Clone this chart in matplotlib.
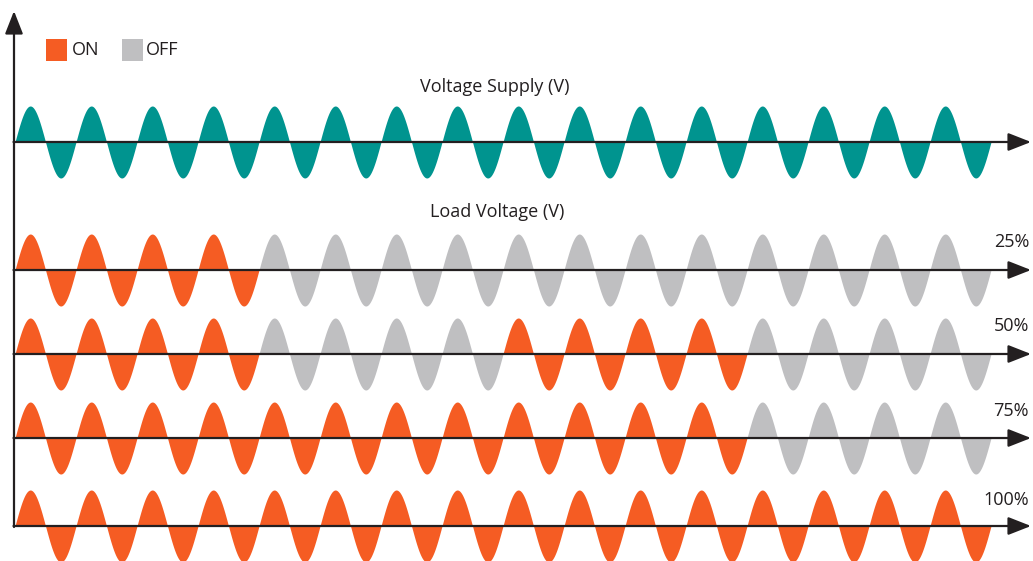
import numpy as np
import matplotlib
matplotlib.use("Agg")
import matplotlib.pyplot as plt
from matplotlib.patches import Rectangle

# ---- data ----
n_cycles = 16
row_labels = ["Voltage Supply", "25%", "50%", "75%", "100%"]
# per-cycle state: 1 = ON, 0 = OFF  (supply row always conducting)
supply_state = [1] * 16
state_25 = [1] * 4 + [0] * 12
state_50 = [1] * 4 + [0] * 4 + [1] * 4 + [0] * 4
state_75 = [1] * 12 + [0] * 4
state_100 = [1] * 16
# baseline of each row (in units of wave amplitude above the bottom axis)
row_baselines = [10.667, 7.111, 4.778, 2.444, 0.0]

TEAL = "#00948f"
ORANGE = "#f55c23"
GRAY = "#bfbfc1"
INK = "#231f20"
FONT = ["Open Sans", "DejaVu Sans"]
FS = 13

W, H, DPI = 1033, 561, 100
fig = plt.figure(figsize=(W / DPI, H / DPI), dpi=DPI)
ax = fig.add_axes([0, 0, 1, 1])
ax.axis("off")

# pixel mapping: x_px = 15 + 61 * t ; y_px = 526 - 36 * v
x0, px_per_cycle = 15.0, 61.0
y0, px_per_amp = 526.0, 36.0
ax.set_xlim(-x0 / px_per_cycle, (W - x0) / px_per_cycle)
ax.set_ylim((y0 - H) / px_per_amp, y0 / px_per_amp)

def px_x(p):
    return (p - x0) / px_per_cycle

def px_y(p):
    return (y0 - p) / px_per_amp

states = [supply_state, state_25, state_50, state_75, state_100]
for r, (st, base) in enumerate(zip(states, row_baselines)):
    for c in range(n_cycles):
        t = np.linspace(c, c + 1, 120)
        v = np.sin(2 * np.pi * t)
        if r == 0:
            col = TEAL
        else:
            col = ORANGE if st[c] else GRAY
        ax.fill_between(t, base, base + v, color=col, lw=0, zorder=2)

arrow_kw = dict(arrowstyle="-|>,head_length=1.4,head_width=0.55",
                color=INK, lw=1.6, shrinkA=0, shrinkB=0)

# horizontal axes for each row
for base in row_baselines:
    ax.annotate("", xy=(px_x(1031), base), xytext=(px_x(13.5), base),
                arrowprops=arrow_kw, zorder=3)

# vertical axis
ax.annotate("", xy=(px_x(14), px_y(11)), xytext=(px_x(14), px_y(527)),
            arrowprops=arrow_kw, zorder=3)

# texts
ax.text(px_x(495), px_y(87), "Voltage Supply (V)", ha="center", va="center",
        fontsize=FS, color=INK, family=FONT)
ax.text(px_x(497), px_y(212), "Load Voltage (V)", ha="center", va="center",
        fontsize=FS, color=INK, family=FONT)
pct_y = [242, 326, 411, 500]
for lab, yy in zip(row_labels[1:], pct_y):
    ax.text(px_x(1029), px_y(yy), lab, ha="right", va="center",
            fontsize=FS, color=INK, family=FONT)

# legend
ax.add_patch(Rectangle((px_x(46), px_y(61)), 21 / px_per_cycle, 22 / px_per_amp,
                       color=ORANGE, lw=0))
ax.text(px_x(72), px_y(50.5), "ON", ha="left", va="center", fontsize=FS,
        color=INK, family=FONT)
ax.add_patch(Rectangle((px_x(122), px_y(61)), 21 / px_per_cycle, 22 / px_per_amp,
                       color=GRAY, lw=0))
ax.text(px_x(146), px_y(50.5), "OFF", ha="left", va="center", fontsize=FS,
        color=INK, family=FONT)

fig.savefig("out.png", dpi=DPI)
